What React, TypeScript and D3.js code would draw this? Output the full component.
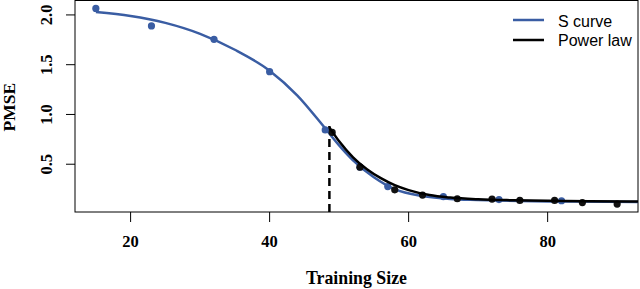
import React from 'react';
import * as d3 from 'd3';

// observed points
const sizesS = [15, 23, 32, 40, 48, 53, 57, 65, 73, 82];
const pmseS = [2.065, 1.89, 1.755, 1.43, 0.845, 0.47, 0.275, 0.175, 0.145, 0.133];
const sizesP = [49, 53, 58, 62, 67, 72, 76, 81, 85, 90];
const pmseP = [0.82, 0.47, 0.243, 0.19, 0.153, 0.15, 0.136, 0.136, 0.115, 0.1];

// fitted curves
const sCurveX = [15, 20, 25, 30, 35, 40, 44, 48, 50, 52, 55, 58, 62, 66, 70, 76, 84, 93];
const sCurveY = [2.03, 1.99, 1.92, 1.81, 1.65, 1.44, 1.19, 0.86, 0.69, 0.54, 0.37, 0.25, 0.18, 0.15, 0.14, 0.13, 0.125, 0.12];
const powerX = [48.6, 50, 52, 54, 56, 58, 60, 63, 66, 70, 75, 80, 86, 93];
const powerY = [0.87, 0.73, 0.57, 0.45, 0.36, 0.29, 0.24, 0.19, 0.165, 0.148, 0.138, 0.132, 0.128, 0.125];

const cutX = 48.6;
const cutY = 0.885;

const xTicks = [20, 40, 60, 80];
const yTicks = [0.5, 1.0, 1.5, 2.0];
const legendLabels = ['S curve', 'Power law'];

const BLUE = '#3a5da3';
const serif = '"Liberation Serif", "Times New Roman", serif';
const sans = '"Liberation Sans", Arial, sans-serif';

const App = () => {
  const width = 640;
  const height = 289;
  const left = 75;
  const right = 638;
  const top = 0.5;
  const bottom = 212;

  const x = d3.scaleLinear().domain([12, 93]).range([left, right]);
  const y = d3.scaleLinear().domain([0.02, 2.15]).range([bottom, 0]);

  const line = d3
    .line<[number, number]>()
    .x((d) => x(d[0]))
    .y((d) => y(d[1]))
    .curve(d3.curveMonotoneX);

  const sPath = line(sCurveX.map((v, i) => [v, sCurveY[i]]));
  const pPath = line(powerX.map((v, i) => [v, powerY[i]]));

  return (
    <svg width={width} height={height} style={{ position: 'absolute', left: 0, top: 0 }}>
      <defs>
        <clipPath id="plot">
          <rect x={left} y={top} width={right - left} height={bottom - top} />
        </clipPath>
      </defs>
      <rect x={left} y={top} width={right - left} height={bottom - top} fill="none" stroke="#000" strokeWidth={1} />

      {xTicks.map((t) => (
        <g key={t}>
          <line x1={x(t)} x2={x(t)} y1={bottom} y2={bottom + 10} stroke="#000" />
          <text x={x(t)} y={247} textAnchor="middle" fontFamily={serif} fontWeight="bold" fontSize={16.5}>
            {t}
          </text>
        </g>
      ))}
      {yTicks.map((t) => (
        <g key={t}>
          <line x1={left - 9} x2={left} y1={y(t)} y2={y(t)} stroke="#000" />
          <text
            transform={`translate(52,${y(t)}) rotate(-90)`}
            textAnchor="middle"
            fontFamily={serif}
            fontWeight="bold"
            fontSize={16.5}
          >
            {d3.format('.1f')(t)}
          </text>
        </g>
      ))}

      <text x={(left + right) / 2} y={284} textAnchor="middle" fontFamily={serif} fontWeight="bold" fontSize={17.8}>
        Training Size
      </text>
      <text
        transform={`translate(15,${(bottom + top) / 2 + 1}) rotate(-90)`}
        textAnchor="middle"
        fontFamily={serif}
        fontWeight="bold"
        fontSize={17.5}
      >
        PMSE
      </text>

      <g clipPath="url(#plot)">
        <line x1={x(cutX)} x2={x(cutX)} y1={bottom} y2={y(cutY)} stroke="#000" strokeWidth={2.5} strokeDasharray="8,5" />
        {sizesS.map((v, i) => (
          <circle key={'s' + i} cx={x(v)} cy={y(pmseS[i])} r={3.6} fill={BLUE} />
        ))}
        <path d={sPath} fill="none" stroke={BLUE} strokeWidth={2.5} />
        {sizesP.map((v, i) => (
          <circle key={'p' + i} cx={x(v)} cy={y(pmseP[i])} r={3.6} fill="#111" />
        ))}
        <path d={pPath} fill="none" stroke="#000" strokeWidth={2.5} />
      </g>

      {legendLabels.map((lab, i) => (
        <g key={lab}>
          <line x1={513} x2={544} y1={20 + i * 20} y2={20 + i * 20} stroke={i === 0 ? BLUE : '#000'} strokeWidth={2.5} />
          <text x={558} y={26.5 + i * 19} fontFamily={sans} fontSize={16}>
            {lab}
          </text>
        </g>
      ))}
    </svg>
  );
};

export default App;
